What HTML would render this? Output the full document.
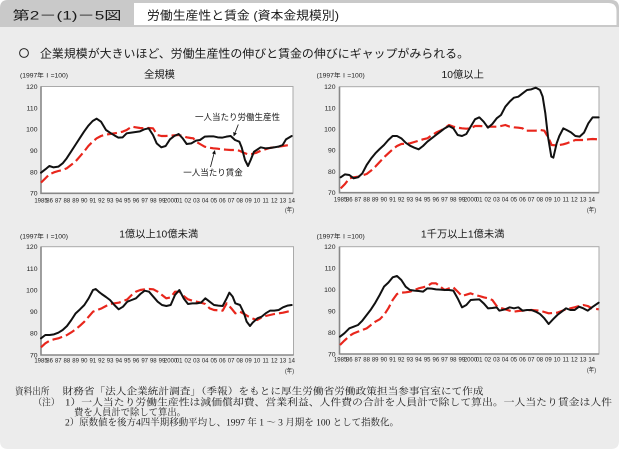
<!DOCTYPE html>
<html><head><meta charset="utf-8">
<style>
html,body{margin:0;padding:0;background:#fff;}
svg{display:block;}
.xl{font-family:"Liberation Sans",sans-serif;font-size:6px;text-anchor:middle;fill:#222;}
.yl{font-family:"Liberation Sans",sans-serif;font-size:6.8px;text-anchor:end;fill:#222;}
.jp{font-family:"Liberation Sans","Noto Sans CJK JP",sans-serif;fill:#1a1a1a;}
.ft{font-family:"Liberation Serif","Noto Serif CJK SC","Noto Sans CJK JP",serif;font-size:9.5px;fill:#1a1a1a;}
.blk{fill:none;stroke:#111;stroke-width:6;stroke-linejoin:round;stroke-linecap:round;}
.red{fill:none;stroke:#e8261c;stroke-width:6.5;stroke-dasharray:30 12;stroke-linejoin:round;}
.frame{fill:#fff;stroke:#aaa;stroke-width:1;}
.ax{stroke:#888;stroke-width:1.6;fill:none;}
</style></head>
<body>
<svg width="621" height="451" viewBox="0 0 621 451" xmlns="http://www.w3.org/2000/svg">
<defs>
<marker id="ah" viewBox="0 0 10 10" refX="9" refY="5" markerWidth="5" markerHeight="5" orient="auto"><path d="M0,0 L10,5 L0,10 z" fill="#111"/></marker>
</defs>
<!-- panel -->
<path d="M0,8 Q0,0 8,0 L611,0 Q619,0 619,8 L619,441 Q619,449 611,449 L8,449 Q0,449 0,441 Z" fill="#ececec"/>
<path d="M0,8 Q0,0 8,0 L611,0 Q619,0 619,8 L619,27 L0,27 Z" fill="#c9c9c9"/>
<path d="M134,3 L608,3 Q616.5,3 616.5,11 L616.5,25 L134,25 Z" fill="#fff"/>
<text class="jp" x="12.5" y="19.6" font-size="12" textLength="109" lengthAdjust="spacingAndGlyphs">第2－(1)－5図</text>
<text class="jp" x="147" y="19.6" font-size="12" textLength="192" lengthAdjust="spacingAndGlyphs">労働生産性と賃金 (資本金規模別)</text>
<circle cx="24" cy="53" r="4.4" fill="none" stroke="#222" stroke-width="1"/>
<text class="jp" x="40" y="57.4" font-size="11.5" textLength="429" lengthAdjust="spacingAndGlyphs">企業規模が大きいほど、労働生産性の伸びと賃金の伸びにギャップがみられる。</text>

<!-- ========== Chart 1 ========== -->
<rect class="frame" x="41" y="86.5" width="252" height="106.8"/>
<path class="ax" d="M41,86.5 L41,193.3 L293,193.3"/>
<text class="jp" x="159.5" y="78" font-size="10.3" text-anchor="middle">全規模</text>
<text class="jp" x="20" y="77.5" font-size="6.2" textLength="48" lengthAdjust="spacingAndGlyphs">(1997年Ⅰ=100)</text>
<g class="yl">
<text x="37.5" y="88.9">120</text><text x="37.5" y="110.3">110</text><text x="37.5" y="131.6">100</text>
<text x="37.5" y="153">90</text><text x="37.5" y="174.3">80</text><text x="37.5" y="195.7">70</text>
</g>
<g class="xl">
<text x="41" y="202.5">1985</text><text x="49.6" y="202.5">86</text><text x="58.3" y="202.5">87</text><text x="66.9" y="202.5">88</text><text x="75.6" y="202.5">89</text><text x="84.2" y="202.5">90</text><text x="92.8" y="202.5">91</text><text x="101.5" y="202.5">92</text><text x="110.1" y="202.5">93</text><text x="118.8" y="202.5">94</text><text x="127.4" y="202.5">95</text><text x="136" y="202.5">96</text><text x="144.7" y="202.5">97</text><text x="153.3" y="202.5">98</text><text x="162" y="202.5">99</text><text x="170.6" y="202.5">2000</text><text x="179.2" y="202.5">01</text><text x="187.9" y="202.5">02</text><text x="196.5" y="202.5">03</text><text x="205.2" y="202.5">04</text><text x="213.8" y="202.5">05</text><text x="222.4" y="202.5">06</text><text x="231.1" y="202.5">07</text><text x="239.7" y="202.5">08</text><text x="248.4" y="202.5">09</text><text x="257" y="202.5">10</text><text x="265.6" y="202.5">11</text><text x="274.3" y="202.5">12</text><text x="282.9" y="202.5">13</text><text x="291.6" y="202.5">14</text>
</g>
<text class="jp" x="285" y="212" font-size="6" textLength="9" lengthAdjust="spacingAndGlyphs">(年)</text>
<g transform="translate(0,60) scale(0.333333)">
<polyline class="red" points="123,368 136,355 148,343 162,337 175,333 188,330 200,325 213,315 226,305 239,290 252,275 265,258 278,245 290,235 303,228 316,224 330,222 343,220 355,218 368,215 380,210 395,200 407,202 420,204 433,205 446,204 459,205 472,225 484,228 497,228 510,227 523,226 536,225 548,228 560,232 572,234 580,235 588,245 600,252 614,260 627,263 640,265 653,266 666,268 679,269 692,270 705,270 718,272 730,278 744,283 756,282 770,278 783,272 796,268 809,264 822,262 835,260 848,258 862,256 875,255"/>
<polyline class="blk" points="123,338 136,328 148,318 160,322 175,320 188,310 200,295 213,275 226,255 239,235 252,215 265,197 278,183 290,176 303,185 318,210 330,218 343,226 355,233 368,232 380,220 394,218 407,216 420,214 433,208 446,205 459,225 470,250 484,262 497,258 510,238 523,228 536,222 548,235 560,252 574,250 588,242 600,240 614,230 627,229 640,229 653,232 666,233 679,230 692,228 705,240 718,245 725,262 735,300 744,318 752,300 762,275 770,270 782,262 796,265 809,264 822,262 835,260 848,255 858,238 875,228"/>
</g>
<text class="jp" x="195" y="120" font-size="8.8" textLength="85" lengthAdjust="spacingAndGlyphs">一人当たり労働生産性</text>
<line x1="238.3" y1="124.5" x2="233.8" y2="136" stroke="#111" stroke-width="0.8" marker-end="url(#ah)"/>
<text class="jp" x="183.3" y="175.3" font-size="8.8" textLength="59.4" lengthAdjust="spacingAndGlyphs">一人当たり賃金</text>
<line x1="210.5" y1="167" x2="214.8" y2="150.5" stroke="#111" stroke-width="0.8" marker-end="url(#ah)"/>

<!-- ========== Chart 2 ========== -->
<rect class="frame" x="339.5" y="86.7" width="259.5" height="106"/>
<path class="ax" d="M339.5,86.7 L339.5,192.7 L599,192.7"/>
<text class="jp" x="462.7" y="78" font-size="10.3" text-anchor="middle">10億以上</text>
<text class="jp" x="316.7" y="77.5" font-size="6.2" textLength="48" lengthAdjust="spacingAndGlyphs">(1997年Ⅰ=100)</text>
<g class="yl">
<text x="335.5" y="89.1">120</text><text x="335.5" y="110.3">110</text><text x="335.5" y="131.5">100</text>
<text x="335.5" y="152.7">90</text><text x="335.5" y="173.9">80</text><text x="335.5" y="195.1">70</text>
</g>
<g class="xl">
<text x="340.6" y="201.7">1985</text><text x="349.3" y="201.7">86</text><text x="357.9" y="201.7">87</text><text x="366.6" y="201.7">88</text><text x="375.2" y="201.7">89</text><text x="383.9" y="201.7">90</text><text x="392.6" y="201.7">91</text><text x="401.2" y="201.7">92</text><text x="409.9" y="201.7">93</text><text x="418.5" y="201.7">94</text><text x="427.2" y="201.7">95</text><text x="435.9" y="201.7">96</text><text x="444.5" y="201.7">97</text><text x="453.2" y="201.7">98</text><text x="461.8" y="201.7">99</text><text x="470.5" y="201.7">2000</text><text x="479.2" y="201.7">01</text><text x="487.8" y="201.7">02</text><text x="496.5" y="201.7">03</text><text x="505.1" y="201.7">04</text><text x="513.8" y="201.7">05</text><text x="522.5" y="201.7">06</text><text x="531.1" y="201.7">07</text><text x="539.8" y="201.7">08</text><text x="548.4" y="201.7">09</text><text x="557.1" y="201.7">10</text><text x="565.8" y="201.7">11</text><text x="574.4" y="201.7">12</text><text x="583.1" y="201.7">13</text><text x="591.7" y="201.7">14</text>
</g>
<text class="jp" x="587" y="212" font-size="6" textLength="9" lengthAdjust="spacingAndGlyphs">(年)</text>
<g transform="translate(310,60) scale(0.333333)">
<polyline class="red" points="92,385 105,372 118,355 131,352 144,350 157,346 170,342 183,332 196,320 209,306 222,292 235,280 248,268 261,258 274,252 287,251 300,250 313,246 326,242 339,238 352,235 365,226 378,218 391,212 404,205 417,195 430,200 443,203 456,205 469,206 482,205 495,198 508,198 521,199 534,200 547,200 560,200 573,198 586,195 599,200 612,202 625,203 638,205 645,212 664,212 677,212 690,210 703,212 716,235 725,255 736,256 748,255 760,253 770,250 783,245 796,240 809,240 822,240 835,238 848,237 866,238"/>
<polyline class="blk" points="92,352 105,343 118,345 131,355 144,352 157,340 170,315 183,296 196,280 209,267 222,255 235,240 248,228 261,228 274,235 287,248 300,257 313,263 326,268 339,258 352,245 365,235 378,225 391,215 404,205 417,198 430,205 443,225 456,228 469,222 482,200 495,178 508,172 521,185 534,203 547,192 560,175 573,165 586,140 599,125 612,113 625,110 638,100 651,90 664,88 677,83 690,90 698,110 706,160 714,230 724,290 730,293 740,250 748,228 760,205 770,210 783,217 796,228 809,230 822,218 835,190 848,172 866,172"/>
</g>

<!-- ========== Chart 3 ========== -->
<rect class="frame" x="41" y="246.7" width="252.5" height="108.3"/>
<path class="ax" d="M41,246.7 L41,355 L293.5,355"/>
<text class="jp" x="158.7" y="237.4" font-size="10.3" text-anchor="middle">1億以上10億未満</text>
<text class="jp" x="20" y="238.3" font-size="6.2" textLength="48" lengthAdjust="spacingAndGlyphs">(1997年Ⅰ=100)</text>
<g class="yl">
<text x="37.5" y="249.1">120</text><text x="37.5" y="270.8">110</text><text x="37.5" y="292.4">100</text>
<text x="37.5" y="314.1">90</text><text x="37.5" y="335.7">80</text><text x="37.5" y="357.4">70</text>
</g>
<g class="xl">
<text x="41" y="362.3">1985</text><text x="49.6" y="362.3">86</text><text x="58.3" y="362.3">87</text><text x="66.9" y="362.3">88</text><text x="75.6" y="362.3">89</text><text x="84.2" y="362.3">90</text><text x="92.8" y="362.3">91</text><text x="101.5" y="362.3">92</text><text x="110.1" y="362.3">93</text><text x="118.8" y="362.3">94</text><text x="127.4" y="362.3">95</text><text x="136" y="362.3">96</text><text x="144.7" y="362.3">97</text><text x="153.3" y="362.3">98</text><text x="162" y="362.3">99</text><text x="170.6" y="362.3">2000</text><text x="179.2" y="362.3">01</text><text x="187.9" y="362.3">02</text><text x="196.5" y="362.3">03</text><text x="205.2" y="362.3">04</text><text x="213.8" y="362.3">05</text><text x="222.4" y="362.3">06</text><text x="231.1" y="362.3">07</text><text x="239.7" y="362.3">08</text><text x="248.4" y="362.3">09</text><text x="257" y="362.3">10</text><text x="265.6" y="362.3">11</text><text x="274.3" y="362.3">12</text><text x="282.9" y="362.3">13</text><text x="291.6" y="362.3">14</text>
</g>
<text class="jp" x="285" y="373" font-size="6" textLength="9" lengthAdjust="spacingAndGlyphs">(年)</text>
<g transform="translate(0,220) scale(0.333333)">
<polyline class="red" points="123,382 136,370 149,362 162,358 175,355 188,350 201,345 214,337 227,328 240,317 253,305 266,290 279,275 292,270 305,265 318,258 330,252 343,250 356,248 369,244 382,238 395,225 408,215 421,210 434,208 447,207 460,208 473,215 486,225 499,235 512,232 525,215 538,215 551,228 564,238 577,242 590,245 603,248 616,252 629,265 642,270 655,271 668,272 680,250 694,265 706,280 720,275 733,282 746,290 759,296 772,300 785,292 797,288 810,285 823,282 836,280 849,278 862,275 875,272"/>
<polyline class="blk" points="123,355 136,345 149,345 162,343 175,338 188,330 201,318 214,300 227,280 240,268 253,255 266,235 279,210 287,207 296,215 305,222 318,231 330,240 343,255 356,268 369,260 382,245 395,240 408,235 421,222 434,212 447,215 460,230 473,245 486,255 499,258 512,255 525,225 538,210 551,235 564,252 577,250 590,250 603,248 616,235 629,245 642,255 655,257 668,258 680,235 688,218 698,230 706,250 720,255 732,280 740,305 750,318 758,308 772,295 785,290 797,280 810,272 823,272 836,270 849,262 862,257 875,255"/>
</g>

<!-- ========== Chart 4 ========== -->
<rect class="frame" x="339.5" y="246.7" width="259.5" height="107.3"/>
<path class="ax" d="M339.5,246.7 L339.5,354 L599,354"/>
<text class="jp" x="462.7" y="237.4" font-size="10.3" text-anchor="middle">1千万以上1億未満</text>
<text class="jp" x="316.7" y="238.3" font-size="6.2" textLength="48" lengthAdjust="spacingAndGlyphs">(1997年Ⅰ=100)</text>
<g class="yl">
<text x="335.5" y="249.1">120</text><text x="335.5" y="270.6">110</text><text x="335.5" y="292">100</text>
<text x="335.5" y="313.5">90</text><text x="335.5" y="334.9">80</text><text x="335.5" y="356.4">70</text>
</g>
<g class="xl">
<text x="340.6" y="361.7">1985</text><text x="349.3" y="361.7">86</text><text x="357.9" y="361.7">87</text><text x="366.6" y="361.7">88</text><text x="375.2" y="361.7">89</text><text x="383.9" y="361.7">90</text><text x="392.6" y="361.7">91</text><text x="401.2" y="361.7">92</text><text x="409.9" y="361.7">93</text><text x="418.5" y="361.7">94</text><text x="427.2" y="361.7">95</text><text x="435.9" y="361.7">96</text><text x="444.5" y="361.7">97</text><text x="453.2" y="361.7">98</text><text x="461.8" y="361.7">99</text><text x="470.5" y="361.7">2000</text><text x="479.2" y="361.7">01</text><text x="487.8" y="361.7">02</text><text x="496.5" y="361.7">03</text><text x="505.1" y="361.7">04</text><text x="513.8" y="361.7">05</text><text x="522.5" y="361.7">06</text><text x="531.1" y="361.7">07</text><text x="539.8" y="361.7">08</text><text x="548.4" y="361.7">09</text><text x="557.1" y="361.7">10</text><text x="565.8" y="361.7">11</text><text x="574.4" y="361.7">12</text><text x="583.1" y="361.7">13</text><text x="591.7" y="361.7">14</text>
</g>
<text class="jp" x="587" y="372" font-size="6" textLength="9" lengthAdjust="spacingAndGlyphs">(年)</text>
<g transform="translate(310,220) scale(0.333333)">
<polyline class="red" points="90,375 103,362 118,348 131,340 144,335 157,330 170,325 183,315 196,305 209,298 222,285 235,265 248,240 261,222 274,218 287,217 300,215 313,210 326,205 339,202 352,198 365,190 378,190 391,200 404,210 417,205 430,202 443,215 456,228 469,224 482,220 495,225 508,228 521,232 534,235 547,240 560,258 573,264 586,268 599,272 612,275 625,273 638,272 651,271 664,270 677,271 690,272 703,276 716,280 729,279 742,278 755,273 768,268 781,265 794,262 807,258 820,255 833,258 846,265 866,268"/>
<polyline class="blk" points="90,350 103,340 118,325 131,320 144,315 157,302 170,285 183,268 196,248 209,225 222,200 235,188 248,172 261,168 274,180 287,200 300,210 313,212 326,213 339,215 352,205 365,206 378,208 391,209 404,210 417,210 430,212 443,235 456,262 469,255 482,240 495,239 508,238 521,250 534,265 547,264 560,262 568,272 586,268 599,262 612,265 625,262 638,272 651,270 664,270 677,275 690,282 703,295 716,312 729,298 742,285 755,275 768,265 781,270 794,270 807,260 820,265 833,272 846,262 866,248"/>
</g>

<!-- ========== Footer ========== -->
<text class="ft" x="15" y="394.6" textLength="34.5" lengthAdjust="spacingAndGlyphs">資料出所</text>
<text class="ft" x="62.5" y="394.6" textLength="421" lengthAdjust="spacingAndGlyphs">財務省「法人企業統計調査」（季報）をもとに厚生労働省労働政策担当参事官室にて作成</text>
<text class="ft" x="33.5" y="405.6" textLength="26" lengthAdjust="spacingAndGlyphs">（注）</text>
<text class="ft" x="65" y="405.6" textLength="547" lengthAdjust="spacingAndGlyphs">1）一人当たり労働生産性は減価償却費、営業利益、人件費の合計を人員計で除して算出。一人当たり賃金は人件</text>
<text class="ft" x="74" y="415.6" textLength="112" lengthAdjust="spacingAndGlyphs">費を人員計で除して算出。</text>
<text class="ft" x="65" y="425.3" textLength="334" lengthAdjust="spacingAndGlyphs">2）原数値を後方4四半期移動平均し、1997 年 1 ～ 3 月期を 100 として指数化。</text>
</svg>
</body></html>
